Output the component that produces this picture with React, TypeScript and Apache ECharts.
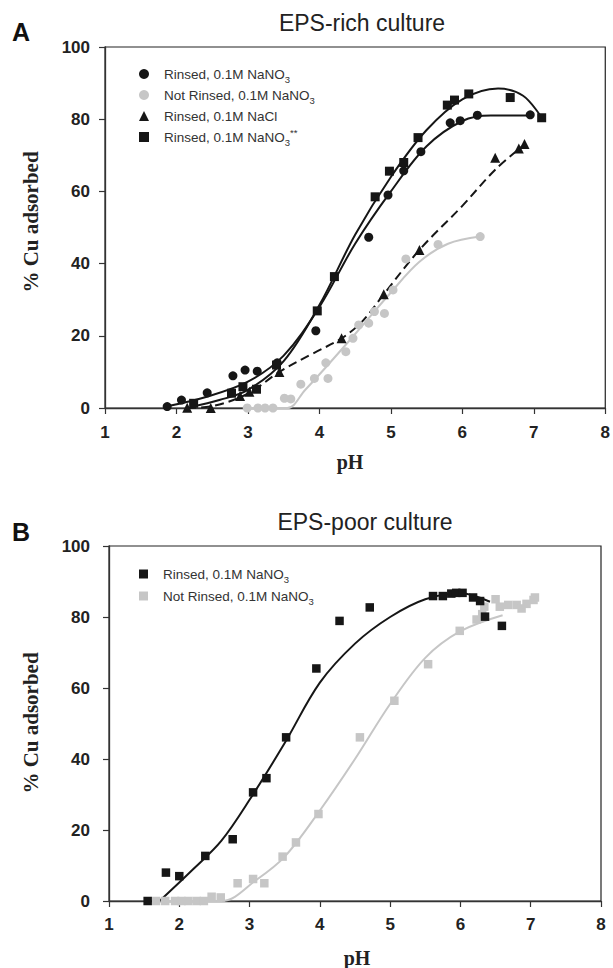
import React, { useEffect, useRef } from "react";
import * as echarts from "echarts";

const SANS = "'Liberation Sans', Arial, Helvetica, sans-serif";
const SERIF = "'Liberation Serif', 'Times New Roman', serif";
const BLACK = "#161616";
const GRAY = "#c6c6c6";

// ---------- Panel A : EPS-rich culture ----------
const A_rinsedNO3_pH = [1.87, 2.07, 2.43, 2.79, 2.96, 3.13, 3.41, 3.95, 4.69, 4.96, 5.18, 5.42, 5.83, 5.97, 6.21, 6.95];
const A_rinsedNO3_cu = [0.4, 2.2, 4.2, 8.9, 10.5, 10.2, 12.5, 21.4, 47.3, 59, 65.7, 71, 79, 79.6, 81.1, 81.2];

const A_notRinsed_pH = [2.99, 3.14, 3.24, 3.35, 3.51, 3.6, 3.74, 3.93, 4.09, 4.12, 4.37, 4.47, 4.55, 4.69, 4.77, 4.91, 5.03, 5.21, 5.66, 6.25];
const A_notRinsed_cu = [0, 0, 0, 0, 2.7, 2.5, 6.6, 8.2, 12.5, 8.2, 15.6, 19.3, 23, 23.5, 26.7, 26.2, 32.7, 41.3, 45.3, 47.5];

const A_NaCl_pH = [2.15, 2.48, 2.89, 3.02, 3.44, 4.31, 4.9, 5.4, 6.46, 6.79, 6.87];
const A_NaCl_cu = [0.1, 0, 3.3, 4.5, 10, 19.3, 31.5, 43.8, 69.3, 71.9, 73.1];

const A_star_pH = [2.24, 2.77, 2.93, 3.12, 3.4, 3.97, 4.21, 4.78, 4.98, 5.18, 5.38, 5.79, 5.89, 6.09, 6.67, 7.11];
const A_star_cu = [1.3, 4.1, 5.9, 5.2, 11.9, 26.9, 36.4, 58.5, 65.6, 68, 74.9, 83.9, 85.3, 87, 86, 80.4];

// fitted curves
const A_fitRinsed_pH = [1.87, 2.4, 3, 3.5, 4, 4.5, 5, 5.5, 6, 6.4, 6.95];
const A_fitRinsed_cu = [0.5, 3, 7.3, 14.5, 28, 45.5, 60, 72.5, 79.5, 81, 81];
const A_fitStar_pH = [2.2, 2.6, 3, 3.5, 4, 4.5, 5, 5.5, 6, 6.5, 6.85, 7.11];
const A_fitStar_cu = [0.3, 2.2, 5, 13, 28.5, 48, 64, 77, 85.5, 88.5, 86.5, 80.4];
const A_fitNaCl_pH = [2.15, 2.5, 3, 3.44, 3.9, 4.31, 4.6, 4.9, 5.4, 6, 6.46, 6.87];
const A_fitNaCl_cu = [0, 0.5, 4, 10, 15, 19.3, 24, 31.5, 43.8, 56, 66, 73];
const A_fitNot_pH = [2.99, 3.55, 3.8, 4.1, 4.5, 5, 5.4, 5.8, 6.25];
const A_fitNot_cu = [0, 0, 5, 11.5, 20.5, 32, 40.5, 45.5, 47.5];

// ---------- Panel B : EPS-poor culture ----------
const B_rinsed_pH = [1.55, 1.81, 2.0, 2.37, 2.76, 3.05, 3.24, 3.52, 3.95, 4.28, 4.71, 5.61, 5.75, 5.87, 5.94, 6.03, 6.18, 6.28, 6.35, 6.59];
const B_rinsed_cu = [0, 8, 7, 12.7, 17.4, 30.6, 34.6, 46.1, 65.5, 78.9, 82.7, 85.9, 85.9, 86.6, 86.8, 86.8, 85.5, 84.5, 80.1, 77.5];

const B_not_pH = [1.67, 1.8, 1.94, 2.03, 2.13, 2.25, 2.35, 2.46, 2.59, 2.83, 3.05, 3.21, 3.47, 3.66, 3.98, 4.57, 5.06, 5.54, 5.99, 6.23, 6.31, 6.34, 6.5, 6.56, 6.68, 6.8, 6.87, 6.94, 7.04, 7.06];
const B_not_cu = [0, 0, 0, 0, 0, 0, 0, 1.2, 1, 5, 6.2, 5, 12.5, 16.5, 24.5, 46.1, 56.4, 66.7, 76.1, 79.3, 80.8, 82.9, 85, 82.9, 83.4, 83.4, 82.4, 83.7, 84.8, 85.5];

const B_fitRinsed_pH = [1.72, 2.2, 2.6, 3, 3.5, 4, 4.5, 5, 5.5, 6, 6.42];
const B_fitRinsed_cu = [0, 9, 17, 28.5, 44.5, 61.5, 72.5, 80, 85, 86.7, 84.3];
const B_fitNot_pH = [1.67, 2.6, 3.1, 3.5, 4, 4.5, 5, 5.5, 6, 6.6];
const B_fitNot_cu = [0, 0, 6, 12.5, 25.5, 40, 55.5, 68.5, 76, 80.5];

const X_TICKS = { min: 1, max: 8, interval: 1 };
const Y_TICKS = { min: 0, max: 100, interval: 20 };

const zip = (xs: number[], ys: number[]) => xs.map((x, i) => [x, ys[i]]);

function legendFormatter(name: string) {
  let s = name;
  if (s.endsWith("NaNO3**")) s = s.replace(/NaNO3\*\*$/, "NaNO{sub|3}{sup|**}");
  else if (s.endsWith("NaNO3")) s = s.replace(/NaNO3$/, "NaNO{sub|3}");
  return "{gap| }" + s;
}

function axes(labelMarginX: number, labelMarginY: number) {
  const axisLine = { show: true, onZero: false, lineStyle: { color: "#333", width: 1.3 } };
  const axisTick = { show: true, inside: false, length: 6, lineStyle: { color: "#333", width: 1.2 } };
  const label = { fontFamily: SANS, fontWeight: "bold" as const, fontSize: 17, color: "#222" };
  return {
    xAxis: {
      type: "value",
      ...X_TICKS,
      axisLine,
      axisTick,
      axisLabel: { ...label, margin: labelMarginX },
      splitLine: { show: false },
    },
    yAxis: {
      type: "value",
      ...Y_TICKS,
      axisLine,
      axisTick,
      axisLabel: { ...label, margin: labelMarginY },
      splitLine: { show: false },
    },
  };
}

function legendBase(left: number, top: number, gap: number, iconSize: number, data: any[]) {
  return {
    orient: "vertical",
    left,
    top,
    itemWidth: iconSize,
    itemHeight: iconSize,
    itemGap: gap,
    selectedMode: false,
    formatter: legendFormatter,
    textStyle: {
      fontFamily: SANS,
      fontSize: 13.5,
      color: "#333",
      lineHeight: 20,
      rich: {
        gap: { width: 10, fontSize: 13.5 },
        sub: { fontFamily: SANS, fontSize: 9.5, color: "#333", verticalAlign: "bottom" },
        sup: { fontFamily: SANS, fontSize: 9.5, color: "#333", verticalAlign: "top" },
      },
    },
    data,
  };
}

function texts(letter: string, letterY: number, title: string, titleX: number, titleY: number, yLabY: number, pHX: number, pHY: number) {
  return [
    {
      type: "text",
      x: 12,
      y: letterY,
      style: { text: letter, fontFamily: SANS, fontWeight: "bold", fontSize: 25, fill: "#111", align: "left", verticalAlign: "middle" },
    },
    {
      type: "text",
      x: titleX,
      y: titleY,
      style: { text: title, fontFamily: SANS, fontSize: 23, fill: "#222", align: "center", verticalAlign: "middle" },
    },
    {
      type: "text",
      x: 31,
      y: yLabY,
      rotation: Math.PI / 2,
      style: { text: "% Cu adsorbed", fontFamily: SERIF, fontWeight: "bold", fontSize: 21, fill: "#222", align: "center", verticalAlign: "middle" },
    },
    {
      type: "text",
      x: pHX,
      y: pHY,
      style: { text: "pH", fontFamily: SERIF, fontWeight: "bold", fontSize: 20, fill: "#222", align: "center", verticalAlign: "middle" },
    },
  ];
}

function fitLine(xs: number[], ys: number[], color: string, dashed = false) {
  return {
    type: "line",
    data: zip(xs, ys),
    smooth: 0.35,
    symbol: "none",
    showSymbol: false,
    silent: true,
    lineStyle: { color, width: 2, type: dashed ? [9, 5] : "solid" },
    z: 1,
  };
}

function scatter(name: string, xs: number[], ys: number[], symbol: string, size: number, color: string) {
  return {
    type: "scatter",
    name,
    data: zip(xs, ys),
    symbol,
    symbolSize: size,
    itemStyle: { color, opacity: 1 },
    z: 3,
  };
}

const N1 = "Rinsed, 0.1M NaNO3";
const N2 = "Not Rinsed, 0.1M NaNO3";
const N3 = "Rinsed, 0.1M NaCl";
const N4 = "Rinsed, 0.1M NaNO3**";

function optionA() {
  return {
    animation: false,
    grid: { left: 105, top: 47, right: 7, bottom: 76, show: true, borderColor: "#222", borderWidth: 1.2, backgroundColor: "transparent" },
    ...axes(16, 15),
    legend: legendBase(134, 59, 1, 10, [
      { name: N1, icon: "circle" },
      { name: N2, icon: "circle" },
      { name: N3, icon: "triangle" },
      { name: N4, icon: "rect" },
    ]),
    graphic: texts("A", 32, "EPS-rich culture", 362, 23, 222, 350, 462),
    series: [
      fitLine(A_fitNot_pH, A_fitNot_cu, GRAY),
      fitLine(A_fitNaCl_pH, A_fitNaCl_cu, BLACK, true),
      fitLine(A_fitRinsed_pH, A_fitRinsed_cu, BLACK),
      fitLine(A_fitStar_pH, A_fitStar_cu, BLACK),
      scatter(N2, A_notRinsed_pH, A_notRinsed_cu, "circle", 9, GRAY),
      scatter(N3, A_NaCl_pH, A_NaCl_cu, "triangle", 10, BLACK),
      scatter(N4, A_star_pH, A_star_cu, "rect", 9, BLACK),
      scatter(N1, A_rinsedNO3_pH, A_rinsedNO3_cu, "circle", 9, BLACK),
    ],
  };
}

function optionB() {
  return {
    animation: false,
    grid: { left: 109, top: 62, right: 12, bottom: 67, show: true, borderColor: "#222", borderWidth: 1.2, backgroundColor: "transparent" },
    ...axes(15, 19),
    legend: legendBase(134, 75, 2, 9, [
      { name: N1, icon: "rect" },
      { name: N2, icon: "rect" },
    ]),
    graphic: texts("B", 48, "EPS-poor culture", 365, 38, 239, 357, 474),
    series: [
      fitLine(B_fitNot_pH, B_fitNot_cu, GRAY),
      fitLine(B_fitRinsed_pH, B_fitRinsed_cu, BLACK),
      scatter(N2, B_not_pH, B_not_cu, "rect", 8.5, GRAY),
      scatter(N1, B_rinsed_pH, B_rinsed_cu, "rect", 8.5, BLACK),
    ],
  };
}

function Panel({ top, option }: { top: number; option: any }) {
  const ref = useRef<HTMLDivElement>(null);
  useEffect(() => {
    if (!ref.current) return;
    const chart = echarts.init(ref.current, undefined, { renderer: "svg" });
    chart.setOption(option);
    return () => chart.dispose();
  }, [option]);
  return <div ref={ref} style={{ position: "absolute", left: 0, top, width: 613, height: 484 }} />;
}

const OPT_A = optionA();
const OPT_B = optionB();

export default function App() {
  return (
    <div style={{ position: "absolute", left: 0, top: 0, width: 613, height: 968, background: "#fff" }}>
      <Panel top={0} option={OPT_A} />
      <Panel top={484} option={OPT_B} />
    </div>
  );
}
